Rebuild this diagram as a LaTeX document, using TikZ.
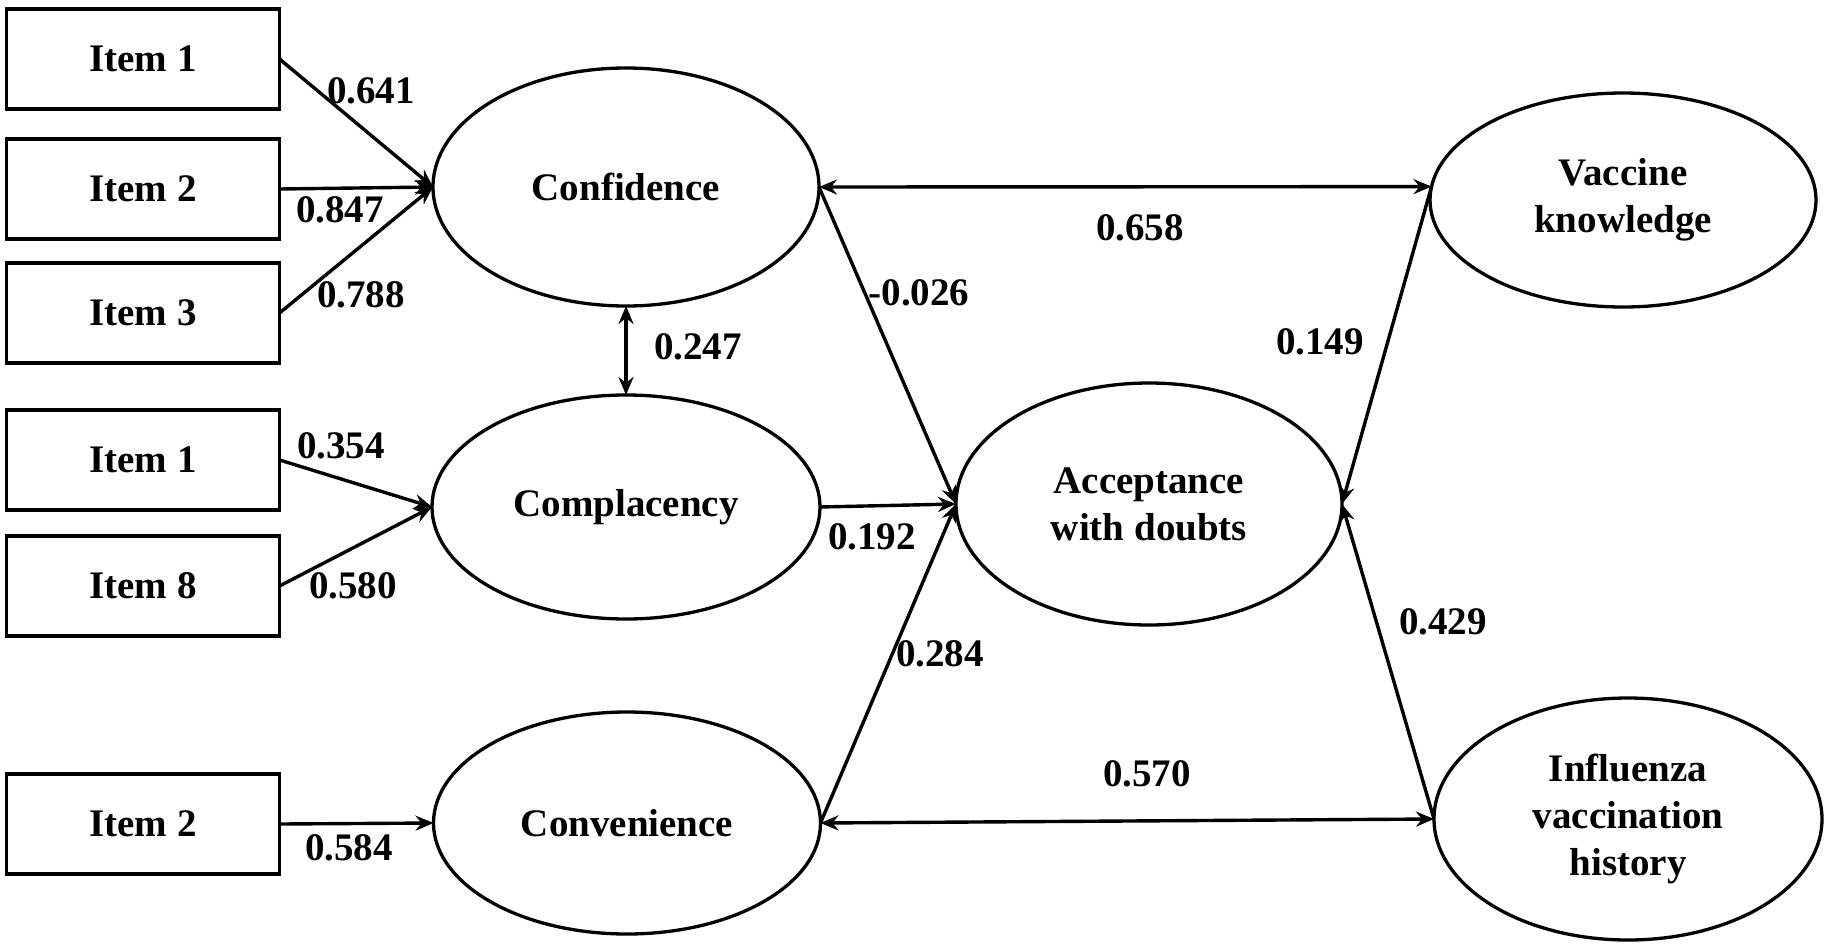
\documentclass[tikz,border=0pt]{standalone}
\usepackage{fontspec}
\setmainfont{Liberation Serif}
\usetikzlibrary{shapes.geometric,arrows.meta}
\begin{document}
\begin{tikzpicture}[x=1pt,y=-1pt,
  every node/.style={font=\fontsize{39}{47}\selectfont\bfseries},
  itembox/.style={draw,line width=3.8pt,minimum width=273pt,minimum height=100pt,inner sep=0pt,outer sep=0pt},
  latent/.style={draw,ellipse,line width=3.3pt,inner sep=0pt,outer sep=0pt,align=center},
  lab/.style={inner sep=0pt},
  arr/.style={line width=3.4pt,-{Stealth[length=18pt,width=15pt,inset=6pt]}},
  darr/.style={line width=3.4pt,{Stealth[length=18pt,width=15pt,inset=6pt]}-{Stealth[length=18pt,width=15pt,inset=6pt]}}]
\useasboundingbox (0,0) rectangle (1831,951);
% items
\node[itembox] (ia) at (143,59) {Item 1};
\node[itembox] (ib) at (143,189) {Item 2};
\node[itembox] (ic) at (143,313) {Item 3};
\node[itembox] (id) at (143,460) {Item 1};
\node[itembox] (ie) at (143,586) {Item 8};
\node[itembox] (ig) at (143,824) {Item 2};
% latent
\node[latent,minimum width=386pt,minimum height=238pt] (conf) at (626,187) {Confidence};
\node[latent,minimum width=388pt,minimum height=224pt] (comp) at (626,507) {Complacency};
\node[latent,minimum width=387pt,minimum height=222pt] (conv) at (627,823) {Convenience};
\node[latent,minimum width=386pt,minimum height=242pt] (acc) at (1149,504) {Acceptance\\with doubts};
\node[latent,minimum width=386pt,minimum height=214pt] (vk) at (1623,200) {Vaccine\\knowledge};
\node[latent,minimum width=388pt,minimum height=242pt] (infl) at (1628,819) {Influenza\\vaccination\\history};
% connectors
\draw[arr] (ia.east) -- (conf.west);
\draw[arr] (ib.east) -- (conf.west);
\draw[arr] (ic.east) -- (conf.west);
\draw[arr] (id.east) -- (comp.west);
\draw[arr] (ie.east) -- (comp.west);
\draw[arr] (ig.east) -- (conv.west);
\draw[darr] (conf.south) -- (comp.north);
\draw[darr] (conf.east) -- (vk.176);
\draw[arr] (conf.east) -- (acc.west);
\draw[arr] (comp.east) -- (acc.west);
\draw[arr] (conv.east) -- (acc.west);
\draw[arr] (vk.176) -- (acc.east);
\draw[arr] (infl.west) -- (acc.east);
\draw[darr] (conv.east) -- (infl.west);
% labels
\node[lab] (l1) at (371,91) {0.641};
\node[lab] (l2) at (340,210) {0.847};
\node[lab] (l3) at (361,295) {0.788};
\node[lab] (l4) at (698,347) {0.247};
\node[lab] (l5) at (341,446) {0.354};
\node[lab] (l6) at (353,586) {0.580};
\node[lab] (l7) at (349,848) {0.584};
\node[lab] (l8) at (1140,228) {0.658};
\node[lab] (l9) at (919,293) {-0.026};
\node[lab] (l10) at (1320,342) {0.149};
\node[lab] (l11) at (872,537) {0.192};
\node[lab] (l12) at (940,654) {0.284};
\node[lab] (l13) at (1443,622) {0.429};
\node[lab] (l14) at (1147,774) {0.570};
\end{tikzpicture}
\end{document}
